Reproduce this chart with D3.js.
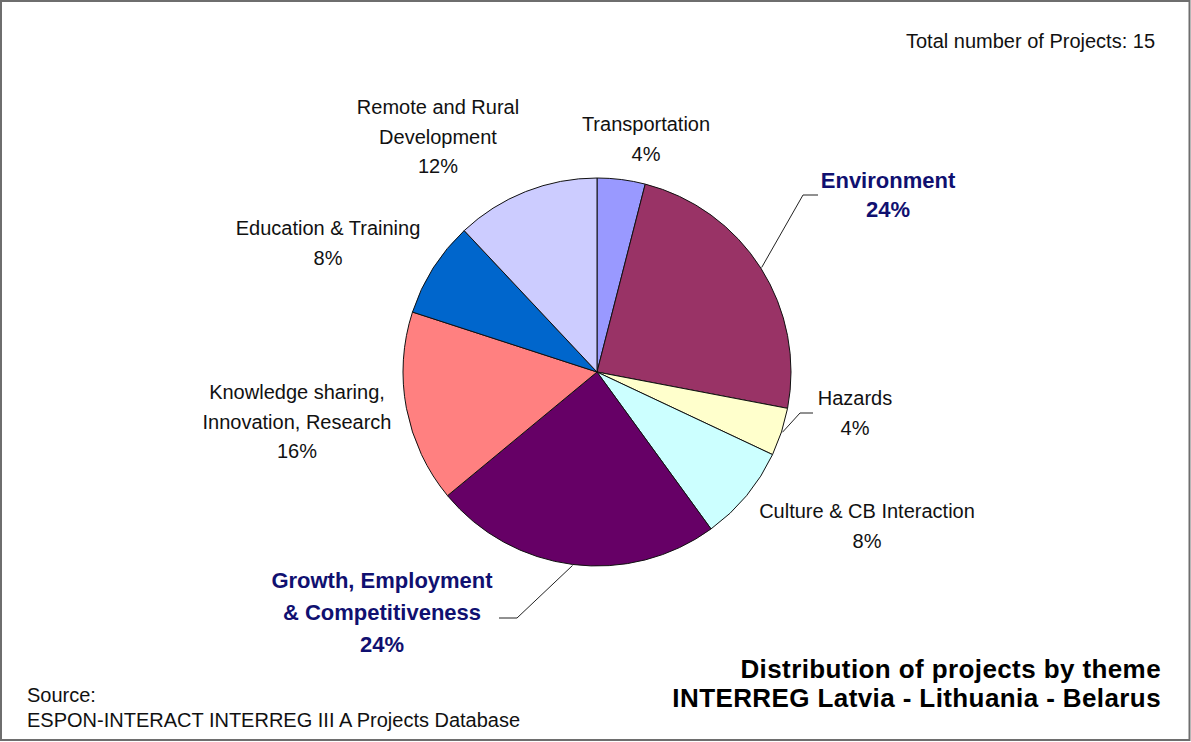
<!DOCTYPE html>
<html>
<head>
<meta charset="utf-8">
<script src="https://cdn.jsdelivr.net/npm/d3@7"></script>
<style>
  html, body { margin: 0; padding: 0; background: #fff; }
  svg { display: block; font-family: "Liberation Sans", Arial, sans-serif; }
</style>
</head>
<body>
<svg id="chart" width="1191" height="742"></svg>
<script>
// ---- data ----
const categories = [
  "Transportation",
  "Environment",
  "Hazards",
  "Culture & CB Interaction",
  "Growth, Employment\n& Competitiveness",
  "Knowledge sharing,\nInnovation, Research",
  "Education & Training",
  "Remote and Rural\nDevelopment"
];
const values = [4, 24, 4, 8, 24, 16, 8, 12];
const highlighted = [false, true, false, false, true, false, false, false];
const colors = ["#9999FF", "#993366", "#FFFFCC", "#CCFFFF", "#660066", "#FF8080", "#0066CC", "#CCCCFF"];
const totalText = "Total number of Projects: 15";
const titleLines = ["Distribution of projects by theme", "INTERREG Latvia - Lithuania - Belarus"];
const sourceLines = ["Source:", "ESPON-INTERACT INTERREG III A Projects Database"];

// ---- layout (label anchors: centre x, first baseline y) ----
const labelPos = [
  [646, 131], [888, 188], [855, 405], [867, 518],
  [382, 588], [297, 399], [328, 235], [438, 114]
];
// leader elbows for some labels: [elbowX, elbowY, endX]
const leaders = { 1: [803, 195, 818], 2: [800, 413, 813], 4: [517, 618, 499] };

const svg = d3.select("#chart");
const W = 1191, H = 742;
const cx = 597, cy = 372, R = 194;

svg.append("rect").attr("x", 1).attr("y", 1).attr("width", W - 2.5).attr("height", H - 3)
  .attr("fill", "#fff").attr("stroke", "#6e6e6e").attr("stroke-width", 2);

const data = categories.map((c, i) => ({ name: c, value: values[i], hi: highlighted[i], color: colors[i], i }));
const pie = d3.pie().sort(null).value(d => d.value);
const arcs = pie(data);
const arc = d3.arc().innerRadius(0).outerRadius(R);

const g = svg.append("g").attr("transform", `translate(${cx},${cy})`);
g.selectAll("path.slice").data(arcs).join("path")
  .attr("class", "slice")
  .attr("d", arc)
  .attr("fill", d => d.data.color)
  .attr("stroke", "#111")
  .attr("stroke-width", 1);

// leader lines
arcs.forEach(a => {
  const L = leaders[a.index];
  if (!L) return;
  const mid = (a.startAngle + a.endAngle) / 2;
  const sx = cx + Math.sin(mid) * (R + 1);
  const sy = cy - Math.cos(mid) * (R + 1);
  svg.append("polyline")
    .attr("points", `${sx},${sy} ${L[0]},${L[1]} ${L[2]},${L[1]}`)
    .attr("fill", "none").attr("stroke", "#222").attr("stroke-width", 1);
});

// labels
const fmt = v => d3.format(".0f")(v) + "%";
arcs.forEach(a => {
  const d = a.data;
  const [x, y] = labelPos[d.i];
  const lines = d.name.split("\n").concat([fmt(d.value / d3.sum(values) * 100)]);
  const lh = d.hi ? 32 : 29.5;
  const t = svg.append("text")
    .attr("text-anchor", "middle")
    .attr("font-size", d.hi ? 22 : 20)
    .attr("font-weight", d.hi ? "bold" : "normal")
    .attr("fill", d.hi ? "#101070" : "#111");
  if (d.i === 1) {
    // Environment uses tighter spacing
    lines.forEach((ln, k) => t.append("tspan").attr("x", x).attr("y", y + k * 29).text(ln));
  } else {
    lines.forEach((ln, k) => t.append("tspan").attr("x", x).attr("y", y + k * lh).text(ln));
  }
});

// total
svg.append("text").attr("x", 1155).attr("y", 48).attr("text-anchor", "end")
  .attr("font-size", 20).attr("fill", "#111").text(totalText);

// source
svg.append("text").attr("font-size", 20).attr("fill", "#111")
  .selectAll("tspan").data(sourceLines).join("tspan")
  .attr("x", 27).attr("y", (d, i) => 702 + i * 25).text(d => d);

// title
svg.append("text").attr("font-size", 26).attr("font-weight", "bold").attr("fill", "#000")
  .attr("text-anchor", "end").attr("letter-spacing", 0.4)
  .selectAll("tspan").data(titleLines).join("tspan")
  .attr("x", 1161).attr("y", (d, i) => 678 + i * 29).text(d => d);
</script>
</body>
</html>
